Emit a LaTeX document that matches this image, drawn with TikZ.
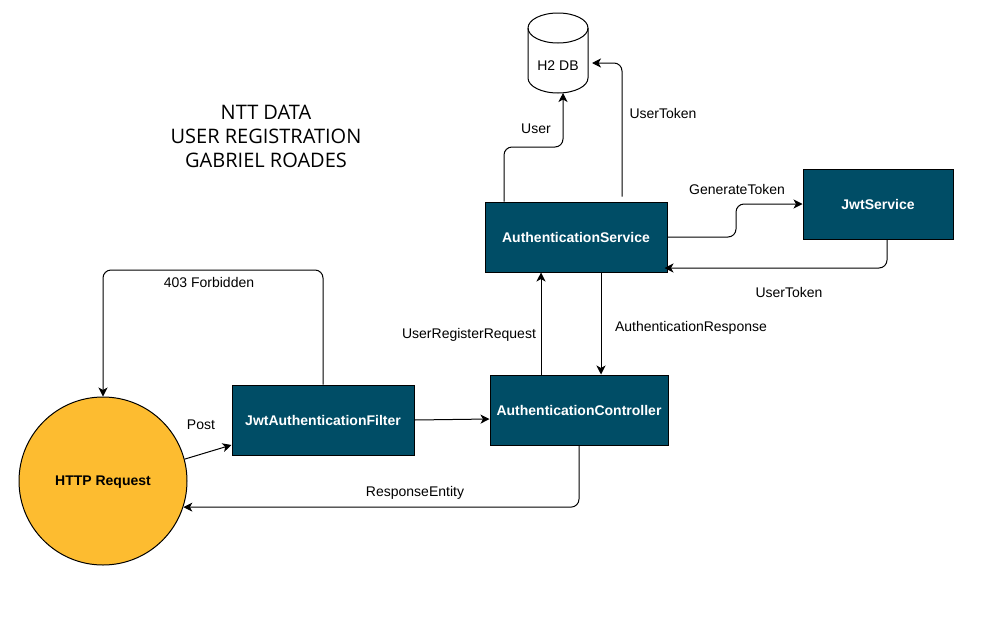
\documentclass[tikz,border=0pt]{standalone}
\usepackage{fontspec}
\setmainfont{Liberation Sans}
\newfontfamily\titlefont{Open Sans}
\usetikzlibrary{arrows.meta}
\definecolor{teal}{RGB}{0,77,102}
\definecolor{amber}{RGB}{253,188,48}
\tikzset{
  service/.style={draw=black, line width=1pt, fill=teal, text=white, align=center,
    minimum height=70pt, inner sep=0pt, font=\fontsize{14}{16}\selectfont\bfseries},
  client/.style={draw=black, line width=1pt, circle, fill=amber, align=center,
    minimum size=168pt, inner sep=0pt, text depth=0pt, font=\fontsize{14}{16}\selectfont\bfseries},
  data/.style={minimum height=80pt, minimum width=60pt, inner sep=0pt, outer sep=0pt},
  datashape/.style={draw=black, line width=1pt, fill=white},
  flow/.style={draw=black, line width=1pt, rounded corners=8pt,
    -{Stealth[length=9pt,width=9pt,inset=2.5pt]}},
  lbl/.style={font=\fontsize{14}{16}\selectfont, inner sep=0pt},
  heading/.style={font=\titlefont\fontsize{20}{24}\selectfont, align=center, inner sep=0pt}
}
\begin{document}
\begin{tikzpicture}[x=1pt, y=-1pt]
    \useasboundingbox (0,0) rectangle (982,643);

    \node[heading] (title) at (266,136) {NTT DATA\\USER REGISTRATION\\GABRIEL ROADES};

    % db outline
    \node[data] (db) at (558,53) {};
    \draw[datashape] ([yshift=-15pt]db.north west) arc[start angle=180, end angle=0, x radius=30pt, y radius=15pt]
      -- ([yshift=15pt]db.south east) arc[start angle=0, end angle=-180, x radius=30pt, y radius=15pt] -- cycle;
    \draw[datashape, fill=none] ([yshift=-15pt]db.north west) arc[start angle=180, end angle=360, x radius=30pt, y radius=15pt];
    \node[lbl] (dblbl) at (558,66) {H2 DB};

    \node[service, minimum width=182pt] (authservice) at (576,237) {AuthenticationService};
    \node[service, minimum width=150pt] (jwtservice) at (878,204) {JwtService};
    \node[service, minimum width=178pt] (authcontroller) at (579,410) {AuthenticationController};
    \node[service, minimum width=182pt] (jwtfilter) at (323,420) {JwtAuthenticationFilter};
    \node[client] (http) at (103,481) {HTTP Request};

    % service -> db
    \draw[flow] ([xshift=-72pt]authservice.north) -- (504,147) -| ([xshift=5pt]db.south);
    \draw[flow] ([shift={(46,-5)}]authservice.north) |- ([shift={(4,10)}]db.east);

    % service <-> jwt
    \draw[flow] (authservice.east) -- (736,237) |- (jwtservice.west);
    \draw[flow] ([xshift=9pt]jwtservice.south) |- ([shift={(-3,31)}]authservice.east);

    % controller <-> service
    \draw[flow] ([xshift=-38pt]authcontroller.north) -- ([xshift=-35pt]authservice.south);
    \draw[flow] ([xshift=25pt]authservice.south) -- ([xshift=22pt]authcontroller.north);

    % request path
    \draw[flow] (http.15) -- ([yshift=-25pt]jwtfilter.west);
    \draw[flow] (jwtfilter.east) -- ([yshift=-9pt]authcontroller.west);
    \draw[flow] (authcontroller.south) |- (http.-18);
    \draw[flow] (jwtfilter.north) -- (323,270) -- (103,270) -- (http.north);

    \node[lbl] (userlbl) at (536,129) {User};
    \node[lbl] (usertokenlbl) at (663,113) {UserToken};
    \node[lbl] (generatelbl) at (737,189) {GenerateToken};
    \node[lbl] (jwttokenlbl) at (789,292) {UserToken};
    \node[lbl] (registerlbl) at (469,335) {UserRegisterRequest};
    \node[lbl] (responselbl) at (691,328) {AuthenticationResponse};
    \node[lbl] (forbiddenlbl) at (209,282) {403 Forbidden};
    \node[lbl] (postlbl) at (201,425) {Post};
    \node[lbl] (entitylbl) at (415,493) {ResponseEntity};
\end{tikzpicture}
\end{document}
